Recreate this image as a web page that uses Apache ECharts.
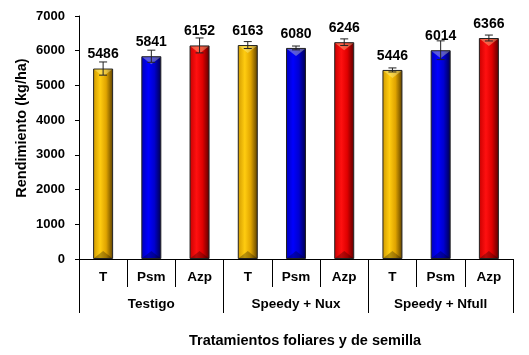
<!DOCTYPE html>
<html>
<head>
<meta charset="utf-8">
<script src="https://cdn.jsdelivr.net/npm/echarts@6/dist/echarts.min.js"></script>
<style>html,body{margin:0;padding:0;background:#fff}#c{width:529px;height:355px}</style>
</head>
<body>
<div id="c"></div>
<script>
var categories = ['T','Psm','Azp','T','Psm','Azp','T','Psm','Azp'];
var groups = ['Testigo','Speedy + Nux','Speedy + Nfull'];
var values = [5486,5841,6152,6163,6080,6246,5446,6014,6366];
var errors = [190,175,215,100,55,95,58,270,85];
var yTicks = [0,1000,2000,3000,4000,5000,6000,7000];

function grad(c0,c1,c2,c3){
  return {type:'linear',x:0,y:0,x2:1,y2:0,colorStops:[
    {offset:0,color:c0},{offset:0.35,color:c1},{offset:0.65,color:c2},{offset:1,color:c3}]};
}
var fills = [
  grad('#D09A00','#FFCC10','#E0A400','#5A3E00'),
  grad('#0000B8','#0000FF','#0000D0','#000048'),
  grad('#C80000','#FF1010','#E00000','#580000')
];

var chart = echarts.init(document.getElementById('c'));
var font = 'Arial, "Liberation Sans", sans-serif';
var BW = 20;
chart.setOption({
  animation:false,
  grid:{left:79,right:16,top:16,bottom:96},
  xAxis:[{
    type:'category', data:categories, position:'bottom',
    axisLine:{show:true,lineStyle:{color:'#000',width:1}},
    axisTick:{show:true,interval:0,length:28,lineStyle:{color:'#000'}},
    axisLabel:{interval:0,margin:11,color:'#000',fontWeight:'bold',fontSize:13.5,fontFamily:font}
  },{
    type:'category', data:groups, position:'bottom', offset:0,
    axisLine:{show:false},
    axisTick:{show:true,interval:0,length:54,lineStyle:{color:'#000'}},
    axisLabel:{interval:0,margin:38,color:'#000',fontWeight:'bold',fontSize:13.5,fontFamily:font}
  }],
  yAxis:{
    type:'value', min:0, max:7000, interval:1000,
    axisLine:{show:true,lineStyle:{color:'#000'}},
    axisTick:{show:true,length:4,lineStyle:{color:'#000'}},
    splitLine:{show:false},
    axisLabel:{margin:14,color:'#000',fontWeight:'bold',fontSize:13,fontFamily:font,
      formatter:function(v){return yTicks.indexOf(v)>=0?String(v):'';}}
  },
  graphic:[
    {type:'text',x:305,y:341,style:{text:'Tratamientos foliares y de semilla',
      fill:'#000',font:'bold 14.5px '+font,textAlign:'center',textVerticalAlign:'middle'}},
    {type:'text',x:22,y:128,rotation:Math.PI/2,style:{text:'Rendimiento (kg/ha)',
      fill:'#000',font:'bold 14.5px '+font,textAlign:'center',textVerticalAlign:'middle'}}
  ],
  series:[{
    type:'bar', xAxisIndex:0, barWidth:BW,
    data:values.map(function(v,i){return {value:v,itemStyle:{color:fills[i%3]}};}),
    itemStyle:{borderColor:'#222',borderWidth:1},
    label:{show:true,position:'top',distance:7,color:'#000',fontWeight:'bold',fontSize:14,fontFamily:font}
  },{
    type:'custom', xAxisIndex:0, z:5, silent:true,
    data:values.map(function(v,i){return [i,v];}),
    renderItem:function(params,api){
      var x=api.value(0), v=api.value(1);
      var top=api.coord([x,v]), bot=api.coord([x,0]);
      var h=BW/2-1, th=7, cx=top[0];
      return {type:'group',children:[
        {type:'polygon',shape:{points:[[cx-h,top[1]+1],[cx+h,top[1]+1],[cx,top[1]+1+th]]},
          style:{fill:'rgba(255,255,180,0.35)'}},
        {type:'polygon',shape:{points:[[cx-h,bot[1]-1],[cx+h,bot[1]-1],[cx,bot[1]-1-th]]},
          style:{fill:'rgba(0,0,0,0.28)'}}
      ]};
    }
  },{
    type:'custom', xAxisIndex:0, z:10,
    data:values.map(function(v,i){return [i,v,errors[i]];}),
    renderItem:function(params,api){
      var x=api.value(0), v=api.value(1), e=api.value(2);
      var hi=api.coord([x,v+e]), lo=api.coord([x,v-e]);
      var w=4;
      var st={stroke:'#222',lineWidth:1};
      return {type:'group',children:[
        {type:'line',shape:{x1:hi[0],y1:hi[1],x2:lo[0],y2:lo[1]},style:st},
        {type:'line',shape:{x1:hi[0]-w,y1:hi[1],x2:hi[0]+w,y2:hi[1]},style:st},
        {type:'line',shape:{x1:lo[0]-w,y1:lo[1],x2:lo[0]+w,y2:lo[1]},style:st}
      ]};
    }
  }]
});
</script>
</body>
</html>
